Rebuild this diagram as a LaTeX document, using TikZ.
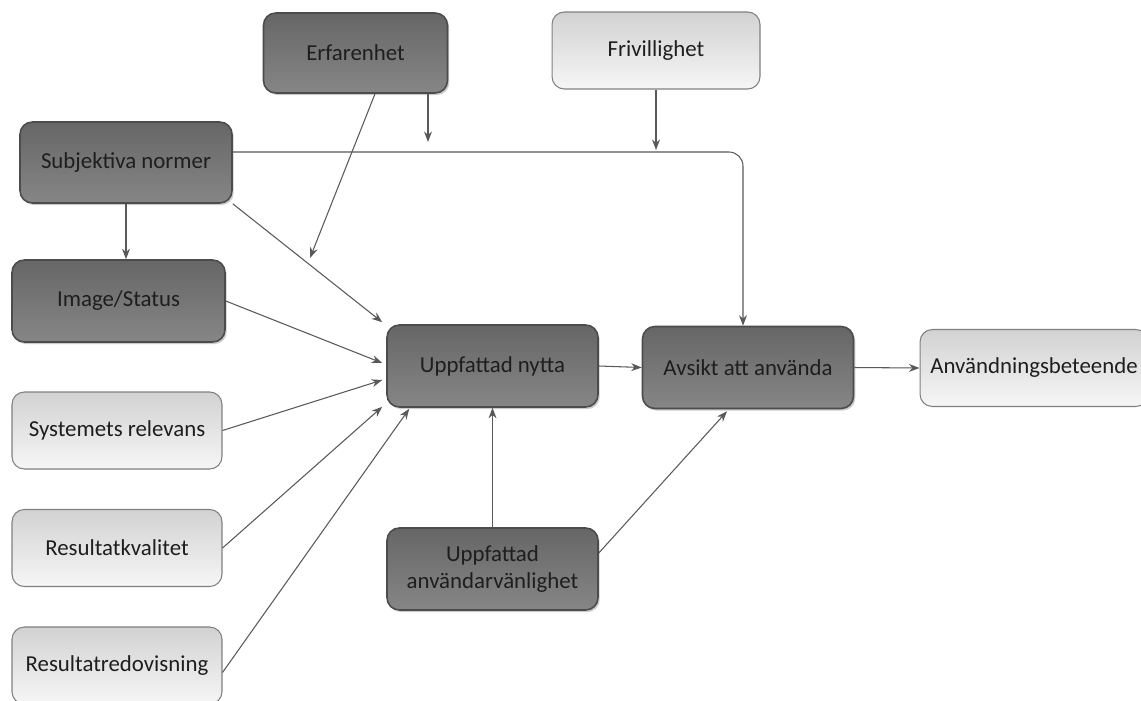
\documentclass[tikz,border=0pt]{standalone}
\usepackage{fontspec}
\setmainfont{Carlito}
\usetikzlibrary{shadows,calc,arrows.meta}
\definecolor{textcol}{HTML}{1E1E1E}
\definecolor{darktop}{HTML}{666666}
\definecolor{darkbot}{HTML}{868686}
\definecolor{darkline}{HTML}{4C4C4C}
\definecolor{lighttop}{HTML}{D2D2D2}
\definecolor{lightbot}{HTML}{F6F6F6}
\definecolor{lightline}{HTML}{808080}
\definecolor{arrowcol}{HTML}{595959}
\begin{document}
\begin{tikzpicture}[x=0.02cm,y=-0.02cm,->,>={Stealth[length=6pt,width=4.5pt]},font=\fontsize{13}{15.5}\selectfont,
    mork/.style={draw=darkline,line width=0.9pt,rounded corners=7pt,top color=darktop,bottom color=darkbot,
        minimum width=4.22cm,minimum height=1.64cm,align=center,text=textcol,
        drop shadow={shadow xshift=1pt,shadow yshift=-1.2pt,opacity=0.4}},
    ljus/.style={draw=lightline,line width=0.6pt,rounded corners=7pt,top color=lighttop,bottom color=lightbot,
        minimum width=4.2cm,minimum height=1.54cm,align=center,text=textcol},
    pil/.style={draw=arrowcol,line width=0.6pt}]
    \useasboundingbox (0,0) rectangle (1141,700);
    \clip (0,0) rectangle (1141,700);
    \fill[white,-] (0,0) rectangle (1141,700);
    \node[mork,minimum width=3.68cm,minimum height=1.6cm] (erf) at (355.5,53) {Erfarenhet};
    \node[ljus,minimum width=4.16cm] (friv) at (656,50.5) {Frivillighet};
    \node[mork,minimum width=4.24cm,minimum height=1.62cm] (sn) at (126,162.5) {Subjektiva normer};
    \node[mork,minimum width=4.26cm] (img) at (118.5,301) {Image/Status};
    \node[ljus] (sys) at (117,430.5) {Systemets relevans};
    \node[ljus] (rk) at (117,548) {Resultatkvalitet};
    \node[ljus] (rr) at (117,665.5) {Resultatredovisning};
    \node[mork] (un) at (492.5,366) {Uppfattad nytta};
    \node[mork] (av) at (748,367.5) {Avsikt att använda};
    \node[ljus,minimum width=4.56cm] (anv) at (1034,368) {Användningsbeteende};
    \node[mork] (ua) at (492.5,569) {Uppfattad\\användarvänlighet};
    \coordinate (knee) at (743,152);
    \coordinate (e1) at (428,142);
    \coordinate (f1) at (656,150);
    \coordinate (e2) at (310,258);
    \draw[pil,rounded corners=8pt] (sn.east|-knee) -- (knee) -- (av.north-|knee);
    \draw[pil] (erf.south-|e1) -- (e1);
    \draw[pil] (friv.south) -- (f1);
    \draw[pil] ($(erf.south)+(19.5,0)$) -- (e2);
    \draw[pil] (sn.south east) -- ([shift={(-4,-2)}]un.north west);
    \draw[pil] (sn.south) -- (sn.south|-img.north);
    \draw[pil] (img.east) -- ([shift={(-4,-3)}]un.west);
    \draw[pil] (sys.east) -- ([shift={(-4,14)}]un.west);
    \draw[pil] (rk.east) -- ([shift={(-4,-1)}]un.south west);
    \draw[pil] ([shift={(0,7)}]rr.east) -- ([shift={(23,1)}]un.south west);
    \draw[pil] (ua.north) -- (un.south);
    \draw[pil] (un.east) -- (av.west);
    \draw[pil] (av.east) -- (anv.west);
    \draw[pil] ([shift={(0,-16)}]ua.east) -- ([shift={(-21,2)}]av.south);
\end{tikzpicture}
\end{document}
